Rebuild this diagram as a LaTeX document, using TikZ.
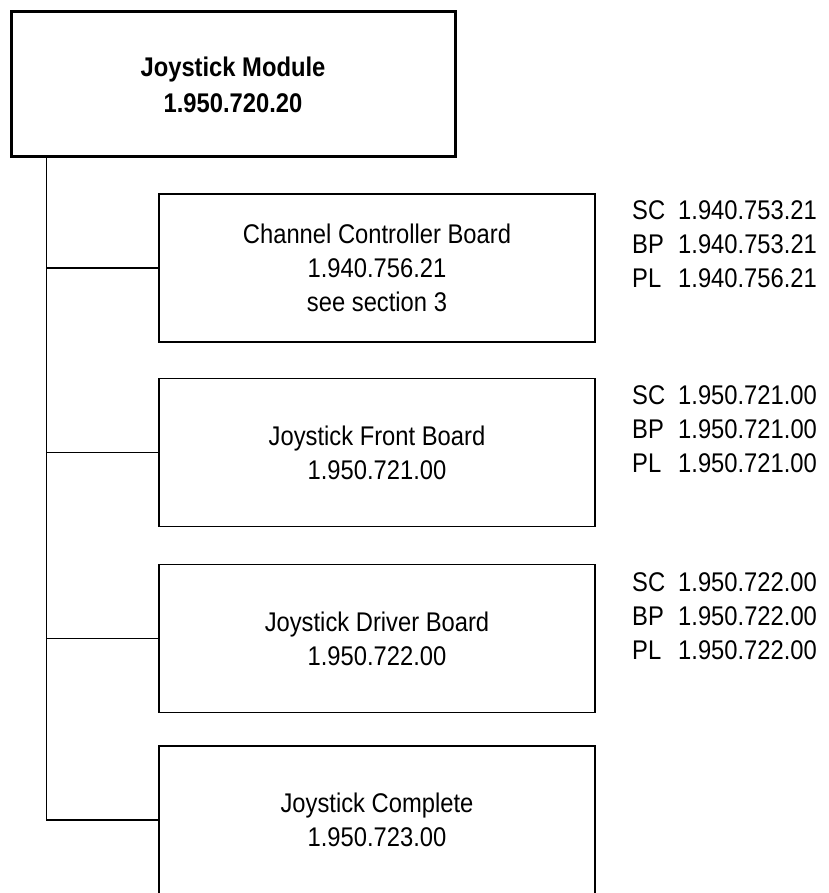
\documentclass[tikz,border=0pt]{standalone}
\usepackage{fontspec}
\setmainfont{Liberation Sans}[FakeStretch=0.88]
\begin{document}
\begin{tikzpicture}[x=1pt,y=-1pt,
  txt/.style={font=\fontsize{27}{34}\selectfont},
  mainbox/.style={draw, line width=3pt, rectangle, minimum width=444pt, minimum height=145pt, align=center, inner sep=0pt, font=\fontsize{27}{36}\selectfont\bfseries},
  subbox/.style={draw, line width=1.5pt, rectangle, minimum width=436pt, minimum height=148pt, align=center, inner sep=0pt, txt},
  codes/.style={anchor=north west, align=left, inner sep=0pt, txt},
  conn/.style={line width=1.5pt}]
\useasboundingbox (0,0) rectangle (828,893);
\node[mainbox] (top) at (233,84.5) {Joystick Module\\1.950.720.20};
\node[subbox] (b1) at (377,268) {Channel Controller Board\\1.940.756.21\\see section 3};
\node[subbox] (b2) at (377,452.5) {Joystick Front Board\\1.950.721.00};
\node[subbox] (b3) at (377,638.5) {Joystick Driver Board\\1.950.722.00};
\node[subbox] (b4) at (377,820) {Joystick Complete\\1.950.723.00};
\node[codes] (c1) at (632,200) {\makebox[46pt][l]{SC}1.940.753.21\\\makebox[46pt][l]{BP}1.940.753.21\\\makebox[46pt][l]{PL}1.940.756.21};
\node[codes] (c2) at (632,385) {\makebox[46pt][l]{SC}1.950.721.00\\\makebox[46pt][l]{BP}1.950.721.00\\\makebox[46pt][l]{PL}1.950.721.00};
\node[codes] (c3) at (632,572) {\makebox[46pt][l]{SC}1.950.722.00\\\makebox[46pt][l]{BP}1.950.722.00\\\makebox[46pt][l]{PL}1.950.722.00};
\path (top.south west) ++(37,0) coordinate (t);
\draw[conn] (t) |- (b4.west);
\draw[conn] (b1.west) -- (b1.west -| t);
\draw[conn] (b2.west) -- (b2.west -| t);
\draw[conn] (b3.west) -- (b3.west -| t);
\end{tikzpicture}
\end{document}
